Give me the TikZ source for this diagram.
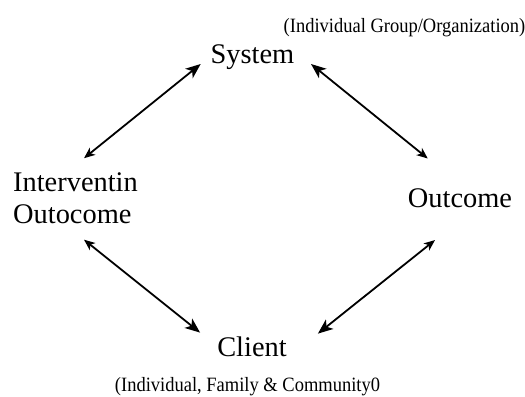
\documentclass[tikz,border=0pt]{standalone}
\usepackage{fontspec}
\setmainfont{Liberation Serif}
\newfontfamily\narrowserif[FakeStretch=0.91]{Liberation Serif}
\usetikzlibrary{arrows.meta}

\begin{document}
\begin{tikzpicture}[x=1bp,y=-1bp,
  main/.style={inner sep=0pt, font=\fontsize{28.5}{32}\selectfont},
  note/.style={inner sep=0pt, font=\narrowserif\fontsize{20.4}{24}\selectfont},
  link/.style={line width=1.8bp,
    {Stealth[length=11bp,width=9bp,inset=3bp]}-{Stealth[length=15bp,width=12bp,inset=4bp]}}]
  \useasboundingbox (0,0) rectangle (525,396);

  % the four elements of the model
  \node[main, anchor=base] (sys) at (252.5,63) {System};
  \node[note, anchor=base] (sysnote) at (404.5,32) {(Individual Group/Organization)};
  \node[main, anchor=west, align=left] (int) at (13,198.4) {Interventin\\Outocome};
  \node[main, anchor=base] (out) at (460,207) {Outcome};
  \node[main, anchor=base] (cli) at (252,356) {Client};
  \node[note, anchor=base] (clinote) at (247.5,391) {(Individual, Family \& Community0};

  % two-way links between neighbouring elements
  \draw[link] ([shift={(8.5,-14.5)}]int.north) -- ([shift={(-9.8,1)}]sys.base west);
  \draw[link] ([shift={(20,-29.5)}]out.north west) -- ([shift={(16.5,1)}]sys.base east);
  \draw[link] ([shift={(8.5,15.6)}]int.south) -- ([shift={(-17,-3.5)}]cli.north west);
  \draw[link] ([shift={(-25,32.6)}]out.south) -- ([shift={(31,-2.5)}]cli.north east);
\end{tikzpicture}
\end{document}
